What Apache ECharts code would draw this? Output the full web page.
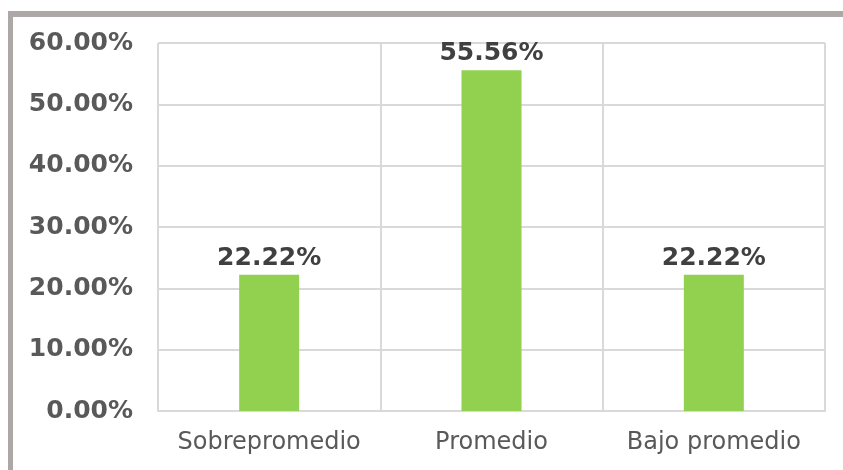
<!DOCTYPE html>
<html>
<head>
<meta charset="utf-8">
<script src="https://cdn.jsdelivr.net/npm/echarts@6/dist/echarts.min.js"></script>
<style>
html,body{margin:0;padding:0;background:#fff;}
#c{width:843px;height:470px;}
</style>
</head>
<body>
<div id="c"></div>
<script>
const categories = ["Sobrepromedio", "Promedio", "Bajo promedio"];
const values = [22.22, 55.56, 22.22];
const yTicks = [0, 10, 20, 30, 40, 50, 60];

const chart = echarts.init(document.getElementById('c'), null, {renderer: 'canvas'});
chart.setOption({
  animation: false,
  backgroundColor: '#ffffff',
  graphic: [
    {type: 'rect', shape: {x: 8, y: 11, width: 835, height: 6}, style: {fill: '#ada8a6'}},
    {type: 'rect', shape: {x: 8, y: 11, width: 5, height: 459}, style: {fill: '#ada8a6'}}
  ],
  grid: {left: 158, right: 18, top: 43, bottom: 59, containLabel: false},
  xAxis: {
    type: 'category',
    data: categories,
    boundaryGap: true,
    axisLine: {show: true, lineStyle: {color: '#d9d9d9', width: 2}},
    axisTick: {show: false},
    splitLine: {show: true, interval: 0, lineStyle: {color: '#d9d9d9', width: 2}},
    axisLabel: {interval: 0, color: '#595959', fontFamily: 'DejaVu Sans', fontSize: 24, margin: 20}
  },
  yAxis: {
    type: 'value',
    min: yTicks[0],
    max: yTicks[yTicks.length - 1],
    interval: 10,
    axisLine: {show: false},
    axisTick: {show: false},
    splitLine: {show: true, lineStyle: {color: '#d9d9d9', width: 2}},
    axisLabel: {
      color: '#595959', fontFamily: 'DejaVu Sans', fontWeight: 'bold', fontSize: 25, margin: 25,
      formatter: v => v.toFixed(2) + '%'
    }
  },
  series: [{
    type: 'bar',
    data: values,
    barWidth: 60,
    itemStyle: {color: '#92d050'},
    label: {
      show: true, position: 'top', distance: 4,
      color: '#404040', fontFamily: 'DejaVu Sans', fontWeight: 'bold', fontSize: 25,
      formatter: p => p.value.toFixed(2) + '%'
    }
  }]
});
</script>
</body>
</html>
